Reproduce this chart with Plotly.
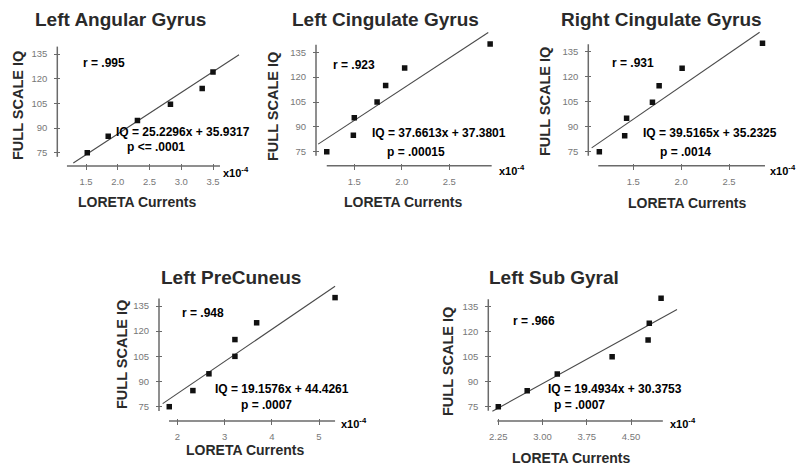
import plotly.graph_objects as go

W, H = 808, 465

# ---------------- data ----------------
titles = ["Left Angular Gyrus", "Left Cingulate Gyrus", "Right Cingulate Gyrus",
          "Left PreCuneus", "Left Sub Gyral"]

p1_x = [1.52, 1.85, 2.31, 2.83, 3.33, 3.50]
p1_y = [75.0, 85.0, 94.5, 104.5, 114.0, 124.0]

p2_x = [1.21, 1.49, 1.50, 1.74, 1.83, 2.03, 2.93]
p2_y = [75.0, 85.0, 95.5, 105.0, 115.0, 125.5, 140.0]

p3_x = [1.145, 1.41, 1.43, 1.70, 1.77, 2.01, 2.85]
p3_y = [75.0, 84.6, 95.0, 104.6, 114.6, 125.0, 140.0]

p4_x = [1.83, 2.33, 2.67, 3.22, 3.22, 3.68, 5.34]
p4_y = [75.0, 84.6, 94.6, 105.0, 115.0, 125.0, 140.0]

p5_x = [2.25, 2.74, 3.25, 4.18, 4.79, 4.81, 5.01]
p5_y = [75.0, 84.6, 94.6, 105.0, 115.0, 125.0, 140.0]

xs = [p1_x, p2_x, p3_x, p4_x, p5_x]
ys = [p1_y, p2_y, p3_y, p4_y, p5_y]

slopes = [25.2296, 37.6613, 39.5165, 19.1576, 19.4934]
intercepts = [35.9317, 37.3801, 35.2325, 44.4261, 30.3753]
r_labels = ["r = .995", "r = .923", "r = .931", "r = .948", "r = .966"]
eq_labels = ["IQ = 25.2296x + 35.9317", "IQ = 37.6613x + 37.3801",
             "IQ = 39.5165x + 35.2325", "IQ = 19.1576x + 44.4261",
             "IQ = 19.4934x + 30.3753"]
p_labels = ["p <= .0001", "p = .00015", "p = .0014", "p = .0007", "p = .0007"]
fit_x_start = [1.30, 1.12, 1.065, 1.69, 2.15]
fit_x_end = [3.91, 2.91, 2.82, 5.34, 5.28]

x_tickvals = [[1.5, 2.0, 2.5, 3.0, 3.5], [1.5, 2.0, 2.5], [1.5, 2.0, 2.5],
              [2, 3, 4, 5], [2.25, 3.00, 3.75, 4.50]]
x_ticktext = [["1.5", "2.0", "2.5", "3.0", "3.5"], ["1.5", "2.0", "2.5"],
              ["1.5", "2.0", "2.5"], ["2", "3", "4", "5"],
              ["2.25", "3.00", "3.75", "4.50"]]
y_tickvals = [75, 90, 105, 120, 135]
y_ticktext = ["75", "90", "105", "120", "135"]
x_axis_start = [1.20, 1.21, 1.134, 1.824, 2.233]
x_axis_end = [3.61, 2.946, 2.876, 5.34, 5.04]
y_axis_lo, y_axis_hi = 72.5, 139.5

x_title = "LORETA Currents"
y_title = "FULL SCALE IQ"
x_unit = "x10<sup>-4</sup>"

# ---------------- layout calibration (pixels) ----------------
cal = [
    dict(xa=(1.5, 86.0), xb=(3.5, 213.0), y75=152.7, y135=54.0, xline=166.0, yline=57.3),
    dict(xa=(1.5, 354.3), xb=(2.5, 449.3), y75=151.7, y135=52.3, xline=165.7, yline=316.0),
    dict(xa=(1.5, 633.3), xb=(2.5, 729.0), y75=151.7, y135=51.7, xline=165.7, yline=588.3),
    dict(xa=(2.0, 177.3), xb=(5.0, 319.0), y75=406.7, y135=306.0, xline=421.0, yline=159.0),
    dict(xa=(2.25, 498.3), xb=(4.5, 631.0), y75=406.7, y135=306.7, xline=421.0, yline=488.3),
]
txt_pos = [
    dict(title=(120, 20), r=(103.5, 63), eq=(183, 132), p=(155.5, 147), unit=(236, 172), xt=(137, 202), yt=(18, 106)),
    dict(title=(385, 20), r=(353.5, 65), eq=(438.5, 133), p=(416.5, 152), unit=(512, 170), xt=(403, 202), yt=(273, 107)),
    dict(title=(661.7, 20), r=(632.5, 63), eq=(710, 133), p=(685, 152), unit=(783, 170), xt=(687, 203), yt=(545, 102)),
    dict(title=(231, 277), r=(202.5, 312.7), eq=(281.5, 389), p=(266, 405), unit=(354, 423), xt=(245, 450), yt=(122, 355)),
    dict(title=(554, 277), r=(533.5, 320.7), eq=(615, 389), p=(579, 405), unit=(683, 423), xt=(571, 458), yt=(448, 362)),
]

FONT = "Liberation Sans, Arial, Helvetica, sans-serif"
AX_COL = "#6a6a6a"
TICK_COL = "#777777"
TXT_COL = "#222222"

fig = go.Figure()
shapes = []
annotations = []
layout_axes = {}


def px(xp):
    return xp / W


def py(yp):
    return 1 - yp / H


for i in range(5):
    n = i + 1
    c = cal[i]
    xn = "x" if n == 1 else f"x{n}"
    yn = "y" if n == 1 else f"y{n}"
    xkey = "xaxis" if n == 1 else f"xaxis{n}"
    ykey = "yaxis" if n == 1 else f"yaxis{n}"

    kx = (c["xb"][1] - c["xa"][1]) / (c["xb"][0] - c["xa"][0])
    ky = (c["y75"] - c["y135"]) / 60.0

    def x_at(p, c=c, kx=kx):
        return c["xa"][0] + (p - c["xa"][1]) / kx

    def y_at(p, c=c, ky=ky):
        return 75 + (c["y75"] - p) / ky

    L = c["yline"] - 2
    R = min(c["yline"] + 215, W - 1)
    T = c["y135"] - 32
    B = c["xline"] + 2

    layout_axes[xkey] = dict(
        domain=[px(L), px(R)], range=[x_at(L), x_at(R)], anchor="free",
        position=py(c["xline"] - 3), showgrid=False, zeroline=False, showline=False,
        ticks="outside", ticklen=6, tickwidth=1, tickcolor=AX_COL,
        tickvals=x_tickvals[i], ticktext=x_ticktext[i], ticklabelstandoff=4,
        tickfont=dict(family=FONT, size=9.5, color=TICK_COL), fixedrange=True,
    )
    layout_axes[ykey] = dict(
        domain=[py(B), py(T)], range=[y_at(B), y_at(T)], anchor="free",
        position=px(c["yline"] + 3), showgrid=False, zeroline=False, showline=False,
        ticks="outside", ticklen=6, tickwidth=1, tickcolor=AX_COL,
        tickvals=y_tickvals, ticktext=y_ticktext, ticklabelstandoff=5,
        tickfont=dict(family=FONT, size=9.5, color=TICK_COL), fixedrange=True,
    )

    # regression line from the equation
    fx = [fit_x_start[i], fit_x_end[i]]
    fy = [slopes[i] * v + intercepts[i] for v in fx]
    fig.add_trace(go.Scatter(x=fx, y=fy, mode="lines", xaxis=xn, yaxis=yn,
                             line=dict(color="#4a4a4a", width=1.1), hoverinfo="skip",
                             showlegend=False))
    fig.add_trace(go.Scatter(x=xs[i], y=ys[i], mode="markers", xaxis=xn, yaxis=yn,
                             marker=dict(symbol="square", size=5.5, color="#111111"),
                             showlegend=False))

    # axis lines
    shapes.append(dict(type="line", xref="paper", yref=yn,
                       x0=px(c["yline"]), x1=px(c["yline"]), y0=y_axis_lo, y1=y_axis_hi,
                       line=dict(color=AX_COL, width=1.5)))
    shapes.append(dict(type="line", xref=xn, yref="paper",
                       x0=x_axis_start[i], x1=x_axis_end[i],
                       y0=py(c["xline"]), y1=py(c["xline"]),
                       line=dict(color=AX_COL, width=1.5)))

    t = txt_pos[i]

    def ann(text, pos, size, color=TXT_COL, angle=0):
        annotations.append(dict(text=text, x=px(pos[0]), y=py(pos[1]), xref="paper",
                                yref="paper", showarrow=False, xanchor="center",
                                yanchor="middle", textangle=angle,
                                font=dict(family=FONT, size=size, color=color)))

    ann(f"<b>{titles[i]}</b>", t["title"], 19, "#2a2a2a")
    ann(f"<b>{r_labels[i]}</b>", t["r"], 12, "#000000")
    ann(f"<b>{eq_labels[i]}</b>", t["eq"], 12, "#000000")
    ann(f"<b>{p_labels[i]}</b>", t["p"], 12, "#000000")
    ann(f"<b>{x_unit}</b>", t["unit"], 11, "#000000")
    ann(f"<b>{x_title}</b>", t["xt"], 14, "#2a2a2a")
    ann(f"<b>{y_title}</b>", t["yt"], 14.5, "#2a2a2a", angle=-90)

fig.update_layout(
    width=W, height=H, margin=dict(l=0, r=0, t=0, b=0),
    paper_bgcolor="white", plot_bgcolor="rgba(0,0,0,0)",
    showlegend=False, shapes=shapes, annotations=annotations, **layout_axes,
)

fig.write_html("out.html", config={"displayModeBar": False},
               post_script="document.body.style.margin='0';document.body.style.overflow='hidden';")
